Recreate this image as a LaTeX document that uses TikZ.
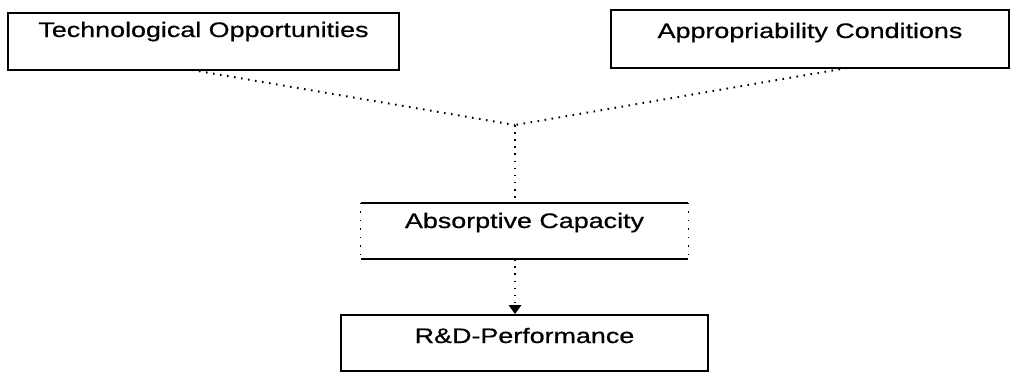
\documentclass[tikz,border=0pt]{standalone}
\usepackage{fontspec}
\setmainfont[FakeBold=0.6]{Liberation Sans}
\usetikzlibrary{arrows.meta}
\newcommand{\wtxt}[1]{\scalebox{1.28}[1]{#1}}
\begin{document}
\begin{tikzpicture}[x=1pt,y=1pt,
  boxlbl/.style={rectangle,inner xsep=0pt,inner ysep=0pt,font=\fontsize{21}{25}\selectfont\addfontfeature{FakeBold=0.6},align=center},
  solidbox/.style={boxlbl,draw,line width=2pt},
  dotline/.style={line width=2pt,dash pattern=on 1.6pt off 5.5pt},
  sideline/.style={line width=1.2pt,dash pattern=on 1.5pt off 7pt}
]
\useasboundingbox (0,0) rectangle (1011,-372);
% Top boxes
\node[solidbox,minimum width=391pt,text height=24pt,text depth=33pt] (to) at (203.5,-41.5) {\wtxt{Technological Opportunities}};
\node[solidbox,minimum width=398pt,text height=28pt,text depth=30pt] (ap) at (810,-39) {\wtxt{Appropriability Conditions}};
% Absorptive capacity (solid top/bottom, dotted sides)
\node[boxlbl,minimum width=327pt,text height=25pt,text depth=31pt] (ac) at (524.5,-231) {\wtxt{Absorptive Capacity}};
\draw[line width=2pt] (ac.north west) -- (ac.north east);
\draw[line width=2pt] (ac.south west) -- (ac.south east);
\draw[sideline] (ac.north west) -- (ac.south west);
\draw[sideline] (ac.north east) -- (ac.south east);
% R&D performance
\node[solidbox,minimum width=367pt,text height=28pt,text depth=28pt] (rd) at (524.5,-343) {\wtxt{R\&D-Performance}};
% Connectors
\coordinate (j) at (515,-125);
\coordinate (tob) at (192,-70);
\coordinate (apb) at (847,-68);
\draw[dotline] (tob) -- (j);
\draw[dotline] (apb) -- (j);
\draw[dotline] (j) -- (ac.north -| j);
\draw[dotline] (ac.south -| j) -- (rd.north -| j);
\fill (rd.north -| j) ++(-6.5,9) -- ++(13,0) -- ++(-6.5,-9) -- cycle;
\end{tikzpicture}
\end{document}
